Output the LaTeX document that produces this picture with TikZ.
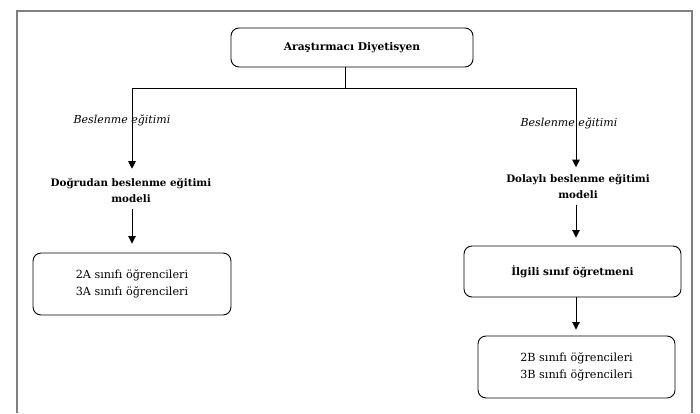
\documentclass[tikz,border=0pt]{standalone}
\usepackage{fontspec}
\setmainfont{DejaVu Serif}
\usetikzlibrary{positioning,arrows.meta}
\tikzstyle{kutu}=[draw, rounded corners=8pt, line width=0.9pt, align=center, inner sep=2pt]
\tikzstyle{baslik}=[align=center, font=\fontsize{10.3}{16}\selectfont\bfseries, inner sep=2pt]
\tikzstyle{ok}=[-{Triangle[width=7.5pt,length=7.5pt]}, line width=0.9pt]

\begin{document}
\begin{tikzpicture}[x=1pt, y=-1pt, font=\fontsize{11.2}{16.5}\selectfont]
				\useasboundingbox (0,0) rectangle (700,413);
				% dis cerceve
				\draw[black!50, line width=1.2pt] (17,413) -- (17,11) -- (692,11) -- (692,413);
				
				\node[kutu, minimum width=242pt, minimum height=39pt, font=\fontsize{10.7}{16}\selectfont\bfseries] (diyetisyen) at (352, 47.5) {Araştırmacı Diyetisyen};
				\coordinate (ayrim) at (345, 88);
				\coordinate (sol) at (132, 88);
				\coordinate (sag) at (576, 88);
				
				\node[font=\fontsize{11}{16}\selectfont\itshape] (egitim1) at (122, 120) {Beslenme eğitimi};
				\node[font=\fontsize{11}{16}\selectfont\itshape] (egitim2) at (569, 123) {Beslenme eğitimi};
				
				\node[baslik] (dogrudan) at (131, 191) {Doğrudan beslenme eğitimi\\modeli};
				\node[baslik] (dolayli) at (578, 186.5) {Dolaylı beslenme eğitimi\\modeli};
				
				\node[kutu, minimum width=198pt, minimum height=62pt] (sinifA) at (132, 284) {2A sınıfı öğrencileri\\3A sınıfı öğrencileri};
				\node[kutu, minimum width=217pt, minimum height=51pt, font=\fontsize{10.5}{16}\selectfont\bfseries] (ogretmen) at (572.5, 271.5) {İlgili sınıf öğretmeni};
				\node[kutu, minimum width=197pt, minimum height=62pt] (sinifB) at (576.5, 367) {2B sınıfı öğrencileri\\3B sınıfı öğrencileri};
				
				\draw[line width=0.9pt] (diyetisyen.south -| ayrim) -- (ayrim);
				\draw[line width=0.9pt] (sol) -- (sag);
				\draw[ok, shorten >=8pt] (sol) -- (dogrudan.north -| sol);
				\draw[ok, shorten >=5pt] (sag) -- (dolayli.north -| sag);
				\draw[ok, shorten <=4pt, shorten >=9pt] (dogrudan.south -| sol) -- (sinifA.north -| sol);
				\draw[ok, shorten <=4pt, shorten >=8pt] (dolayli.south -| sag) -- (ogretmen.north -| sag);
				\draw[ok, shorten >=6pt] (ogretmen.south -| sag) -- (sinifB.north -| sag);
			\end{tikzpicture}
\end{document}
